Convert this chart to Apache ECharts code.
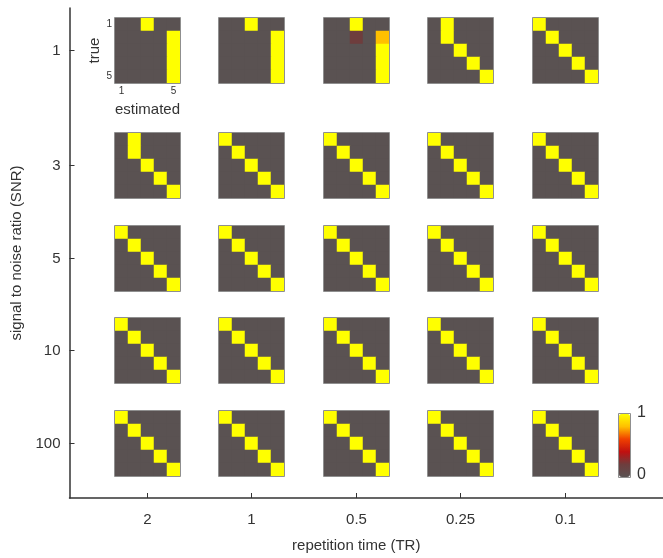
<!DOCTYPE html>
<html><head><meta charset="utf-8">
<script src="https://cdn.jsdelivr.net/npm/echarts@6/dist/echarts.min.js"></script>
<style>html,body{margin:0;padding:0;background:#fff}#c{width:663px;height:558px}</style>
</head><body><div id="c"></div>
<script>
// ---------- data ----------
const trLabels = ['2', '1', '0.5', '0.25', '0.1'];
const snrLabels = ['1', '3', '5', '10', '100'];
const classLabels = ['1', '2', '3', '4', '5'];

// confusion matrices: rows = true class, cols = estimated class
const matDiag = [
  [1, 0, 0, 0, 0],
  [0, 1, 0, 0, 0],
  [0, 0, 1, 0, 0],
  [0, 0, 0, 1, 0],
  [0, 0, 0, 0, 1]
];
const matCollapse = [
  [0, 0, 1, 0, 0],
  [0, 0, 0, 0, 1],
  [0, 0, 0, 0, 1],
  [0, 0, 0, 0, 1],
  [0, 0, 0, 0, 1]
];
const matCollapseMixed = [
  [0, 0, 1, 0, 0],
  [0, 0, 0.2, 0, 0.8],
  [0, 0, 0, 0, 1],
  [0, 0, 0, 0, 1],
  [0, 0, 0, 0, 1]
];
const matMerge12 = [
  [0, 1, 0, 0, 0],
  [0, 1, 0, 0, 0],
  [0, 0, 1, 0, 0],
  [0, 0, 0, 1, 0],
  [0, 0, 0, 0, 1]
];
// rows = SNR (snrLabels), cols = TR (trLabels)
const matrixTable = [
  [matCollapse, matCollapse, matCollapseMixed, matMerge12, matDiag],
  [matMerge12, matDiag, matDiag, matDiag, matDiag],
  [matDiag, matDiag, matDiag, matDiag, matDiag],
  [matDiag, matDiag, matDiag, matDiag, matDiag],
  [matDiag, matDiag, matDiag, matDiag, matDiag]
];

// ---------- layout ----------
const colX = [147.5, 251.5, 356.5, 460.5, 565.5];
const rowY = [50.5, 165.5, 258.5, 350.5, 443.5];
const box = 65;
const FONT = 'Liberation Sans, Arial, Helvetica, sans-serif';
const TXT = '#333';
const GRAY = '#5a5252';

const chart = echarts.init(document.getElementById('c'), null, {renderer: 'canvas'});

const grids = [{left: 69.5, right: 0, top: 8, bottom: 60, show: false}];
const xAxes = [{
  type: 'value', gridIndex: 0, min: 69.5, max: 663,
  axisLine: {show: true, lineStyle: {color: '#333', width: 1.5}},
  axisTick: {show: true, inside: true, length: 5, customValues: colX, lineStyle: {color: '#333'}},
  axisLabel: {customValues: colX, formatter: v => trLabels[colX.indexOf(v)], margin: 14,
    fontSize: 15, color: TXT, fontFamily: FONT},
  splitLine: {show: false},
  name: 'repetition time (TR)', nameLocation: 'middle', nameGap: 40,
  nameTextStyle: {fontSize: 15, color: TXT, fontFamily: FONT, padding: [0, 20, 0, 0]}
}];
const yAxes = [{
  type: 'value', gridIndex: 0, min: 8, max: 498, inverse: true,
  axisLine: {show: true, lineStyle: {color: '#333', width: 1.5}},
  axisTick: {show: true, inside: true, length: 5, customValues: rowY, lineStyle: {color: '#333'}},
  axisLabel: {customValues: rowY, formatter: v => snrLabels[rowY.indexOf(v)], margin: 9,
    fontSize: 15, color: TXT, fontFamily: FONT},
  splitLine: {show: false},
  name: 'signal to noise ratio (SNR)', nameLocation: 'middle', nameGap: 41,
  nameTextStyle: {fontSize: 15, color: TXT, fontFamily: FONT}
}];
const series = [];
const frames = [];

let gi = 1;
for (let r = 0; r < snrLabels.length; r++) {
  for (let c = 0; c < trLabels.length; c++) {
    const M = matrixTable[r][c];
    const first = (r === 0 && c === 0);
    const L = Math.round(colX[c] - box / 2), T = Math.round(rowY[r] - box / 2);
    grids.push({
      left: L, top: T, width: box, height: box,
      show: true, borderWidth: 0, backgroundColor: GRAY
    });
    frames.push({type: 'rect', shape: {x: L - 0.5, y: T - 0.5, width: box + 1, height: box + 1},
      style: {fill: null, stroke: '#8f8f8f', lineWidth: 1}, z: 100, silent: true});
    xAxes.push({
      type: 'category', gridIndex: gi, data: classLabels, show: first,
      axisLine: {show: false}, axisTick: {show: false}, splitLine: {show: false},
      axisLabel: {interval: (i) => i === 0 || i === 4, fontSize: 10, margin: 3, color: TXT, fontFamily: FONT},
      name: first ? 'estimated' : '', nameLocation: 'middle', nameGap: 19,
      nameTextStyle: {fontSize: 15, color: TXT, fontFamily: FONT}
    });
    yAxes.push({
      type: 'category', gridIndex: gi, data: classLabels, inverse: true, show: first,
      axisLine: {show: false}, axisTick: {show: false}, splitLine: {show: false},
      axisLabel: {interval: (i) => i === 0 || i === 4, fontSize: 10, margin: 3, color: TXT, fontFamily: FONT},
      name: first ? 'true' : '', nameLocation: 'middle', nameGap: 13, nameRotate: 90,
      nameTextStyle: {fontSize: 15, color: TXT, fontFamily: FONT}
    });
    const data = [];
    for (let i = 0; i < 5; i++) for (let j = 0; j < 5; j++) data.push([j, i, M[i][j]]);
    series.push({
      type: 'heatmap', xAxisIndex: gi, yAxisIndex: gi, data: data,
      emphasis: {disabled: true}, itemStyle: {borderWidth: 0}
    });
    gi++;
  }
}

chart.setOption({
  animation: false,
  backgroundColor: '#fff',
  textStyle: {fontFamily: FONT},
  grid: grids, xAxis: xAxes, yAxis: yAxes, series: series,
  visualMap: {
    type: 'continuous', min: 0, max: 1, dimension: 2, calculable: false, show: true,
    orient: 'vertical', left: 619, top: 414, itemWidth: 11, itemHeight: 63, padding: 0,
    text: null, hoverLink: false,
    inRange: {color: [GRAY, '#6e3d3d', '#c01010', '#f04000', '#ffc000', '#ffff00']}
  },
  graphic: frames.concat([
    {type: 'rect', shape: {x: 618.5, y: 413.5, width: 12, height: 64},
      style: {fill: null, stroke: '#8f8f8f', lineWidth: 1}, z: 100, silent: true},
    {type: 'text', x: 637, y: 405, style: {text: '1', fontSize: 16, fill: TXT, fontFamily: FONT}, z: 100},
    {type: 'text', x: 637, y: 467, style: {text: '0', fontSize: 16, fill: TXT, fontFamily: FONT}, z: 100}
  ])
});
</script>
</body></html>
